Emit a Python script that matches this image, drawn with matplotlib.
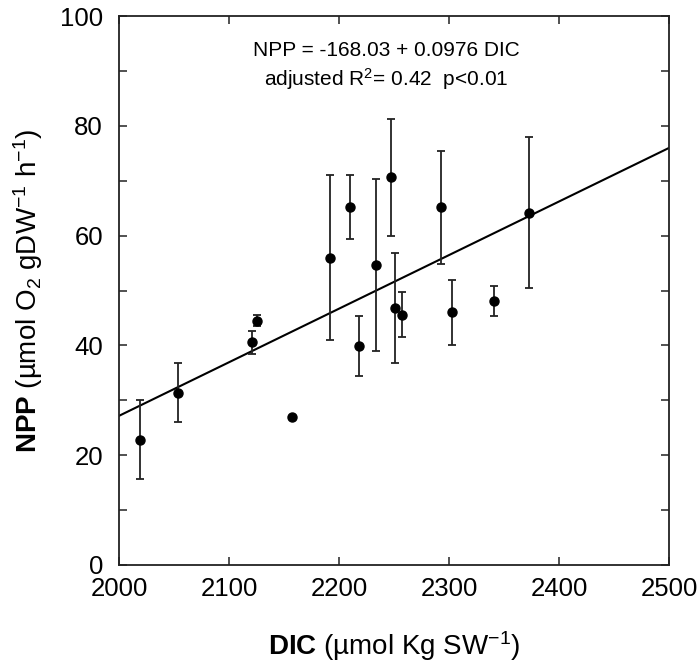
import numpy as np
import matplotlib.pyplot as plt
from matplotlib.ticker import MultipleLocator

plt.rcParams['font.family'] = ['Liberation Sans', 'DejaVu Sans']
plt.rcParams['mathtext.fontset'] = 'custom'
plt.rcParams['mathtext.rm'] = 'Liberation Sans'
plt.rcParams['mathtext.it'] = 'Liberation Sans:italic'
plt.rcParams['mathtext.bf'] = 'Liberation Sans:bold'

# values
dic = [2019, 2054, 2121, 2125, 2157, 2192, 2210, 2218, 2234, 2247,
       2251, 2257, 2293, 2303, 2341, 2373]
npp = [22.8, 31.4, 40.6, 44.5, 26.9, 56.0, 65.2, 39.9, 54.7, 70.6,
       46.8, 45.6, 65.2, 46.0, 48.1, 64.2]
npp_err = [7.2, 5.4, 2.1, 1.0, 0.0, 15.0, 5.8, 5.5, 15.7, 10.6,
           10.0, 4.1, 10.3, 6.0, 2.7, 13.7]

intercept = -168.03
slope = 0.0976

fig = plt.figure(figsize=(7, 6.63), dpi=100)
ax = fig.add_axes([119 / 700, 1 - 565 / 663, 550 / 700, 549 / 663])

ax.errorbar(dic, npp, yerr=npp_err, fmt='o', color='black', ecolor='#222222',
            markersize=6.5, elinewidth=1.3, capsize=2.6, capthick=1.3, zorder=3)

xl = np.array([2000, 2500])
ax.plot(xl, intercept + slope * xl, color='black', lw=1.5, zorder=2)

ax.set_xlim(2000, 2500)
ax.set_ylim(0, 100)
ax.xaxis.set_major_locator(MultipleLocator(100))
ax.yaxis.set_major_locator(MultipleLocator(20))
ax.yaxis.set_minor_locator(MultipleLocator(10))
ax.tick_params(which='both', direction='in', top=True, right=True,
               length=6, width=1.1, labelsize=18.5, color='#222222')
ax.tick_params(axis='x', pad=9)
ax.tick_params(axis='y', pad=11.5)
for s in ax.spines.values():
    s.set_linewidth(1.3)
    s.set_color('#222222')

ax.set_xlabel(r'$\mathbf{DIC}$ (µmol Kg SW$^{-1}$)', fontsize=20, labelpad=20)
ax.set_ylabel(r'$\mathbf{NPP}$ (µmol O$_2$ gDW$^{-1}$ h$^{-1}$)', fontsize=20,
              labelpad=11)

ax.text(2243, 93.8, 'NPP = -168.03 + 0.0976 DIC', ha='center', va='center',
        fontsize=15)
ax.text(2243, 88.6, r'adjusted R$^2$= 0.42  p<0.01', ha='center', va='center',
        fontsize=15)

fig.savefig('out.png', dpi=100)
